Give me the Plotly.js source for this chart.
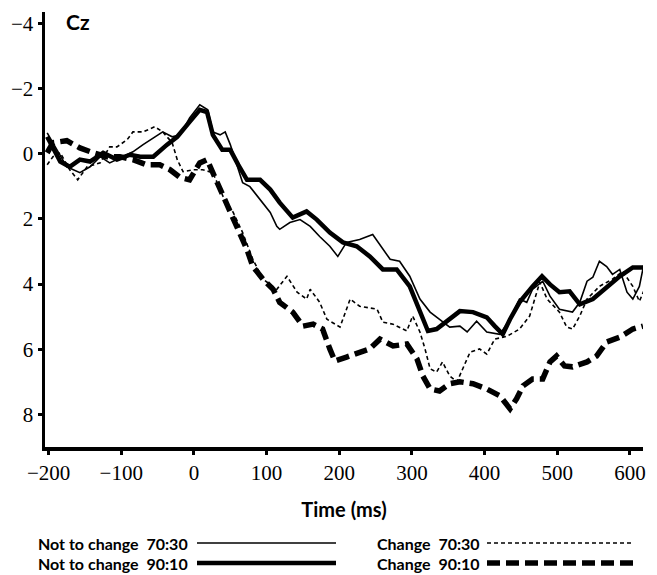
<!DOCTYPE html>
<html>
<head>
<meta charset="utf-8">
<script src="https://cdn.plot.ly/plotly-3.0.1.min.js"></script>
<style>html,body{margin:0;padding:0;background:#fff;}#chart{width:657px;height:575px;}</style>
</head>
<body>
<div id="chart"></div>
<script>
// ---- Data (Time in ms, amplitude in µV; negative plotted up) ----
const seriesNames = ["Not to change  70:30", "Not to change  90:10", "Change  70:30", "Change  90:10"];

const notChange7030_t = [-202,-188,-175,-157,-143,-129,-116,-98,-84,-70,-56,-43,-30,-19,-6,8,19,26,36,43,50,61,67,77,91,105,114,118,132,146,160,173,187,198,210,228,246,260,270,283,297,311,325,338,352,366,376,389,403,421,435,448,458,466,480,490,503,521,531,541,549,558,568,576,586,596,604,613,620];
const notChange7030_v = [-0.64,-0.12,0.40,0.58,0.40,0.09,0.28,0.09,-0.06,-0.28,-0.49,-0.67,-0.52,-0.58,-1.10,-1.50,-1.35,-0.67,-0.58,-0.67,-0.28,0.49,0.89,1.01,1.41,1.80,2.23,2.32,2.11,2.02,2.23,2.54,2.84,3.15,2.72,2.63,2.48,2.94,3.24,3.30,3.76,4.46,4.86,5.08,5.32,5.29,5.47,5.14,5.47,5.54,5.08,4.46,4.56,4.16,3.91,4.37,4.77,4.86,4.56,3.91,3.79,3.30,3.46,3.70,3.55,4.25,4.46,4.07,3.30];

const notChange9010_t = [-202,-194,-184,-171,-157,-143,-125,-106,-88,-74,-56,-37,-23,-6,8,18,26,39,50,61,73,91,105,118,136,155,169,187,205,224,242,260,279,297,311,322,334,348,366,384,403,414,425,435,448,466,479,490,503,517,531,549,568,586,604,618];
const notChange9010_v = [-0.52,-0.21,0.24,0.40,0.18,0.24,-0.03,0.18,0.03,0.09,0.09,-0.28,-0.52,-0.98,-1.35,-1.28,-0.58,-0.12,-0.12,0.34,0.80,0.80,1.10,1.50,1.96,1.77,2.02,2.42,2.72,2.84,3.15,3.55,3.55,4.07,4.86,5.44,5.38,5.14,4.83,4.86,5.02,5.29,5.54,5.08,4.56,4.07,3.76,4.01,4.25,4.22,4.62,4.46,4.10,3.76,3.49,3.49];

const change7030_t = [-202,-194,-184,-171,-160,-147,-129,-116,-106,-92,-84,-70,-54,-43,-30,-23,-15,-1,12,26,40,54,67,81,95,114,128,142,155,160,173,183,201,215,228,252,260,274,293,301,311,318,325,334,342,352,362,370,380,393,403,414,431,448,462,476,486,503,513,521,531,541,558,576,590,604,613,620];
const change7030_v = [0.34,0.09,-0.03,0.49,0.80,0.40,0.28,-0.21,-0.21,-0.43,-0.67,-0.67,-0.83,-0.67,-0.34,0.18,0.55,0.49,0.49,0.58,1.31,1.80,2.42,3.24,3.85,4.16,3.76,4.25,4.46,4.16,4.56,5.08,5.32,4.46,4.68,4.77,5.17,5.23,5.44,4.98,5.47,5.99,6.60,6.70,6.39,6.82,7.00,6.60,6.09,5.99,6.15,5.69,5.60,5.38,4.98,3.94,4.46,4.86,5.32,5.38,4.98,4.46,4.07,3.85,3.61,4.07,4.53,4.16];

const change9010_t = [-202,-194,-175,-157,-139,-120,-102,-84,-65,-47,-33,-19,-6,8,18,26,36,45,59,73,81,95,109,118,136,150,164,177,187,194,210,228,242,256,274,293,307,315,325,338,352,366,384,403,421,435,444,453,466,480,490,499,510,521,541,554,568,586,604,618];
const change9010_v = [-0.03,-0.34,-0.40,-0.18,-0.03,0.09,0.09,0.18,0.34,0.34,0.49,0.73,0.80,0.28,0.18,0.58,1.10,1.62,2.32,2.94,3.46,3.85,4.16,4.56,4.86,5.29,5.23,5.38,5.99,6.36,6.24,6.09,5.99,5.69,5.90,5.84,6.30,6.82,7.22,7.28,7.06,7.00,7.06,7.22,7.43,7.83,7.52,7.12,6.91,6.91,6.39,6.21,6.51,6.54,6.39,6.21,5.78,5.63,5.38,5.29];

const xTicks = [-200,-100,0,100,200,300,400,500,600];
const yTicks = [-4,-2,0,2,4,6,8];

// ---- Styles ----
const styles = [
  {width: 1.6, dash: "solid"},
  {width: 4.5, dash: "solid"},
  {width: 1.6, dash: "4px,3px"},
  {width: 5.5, dash: "13px,6px"}
];
const xs = [notChange7030_t, notChange9010_t, change7030_t, change9010_t];
const ys = [notChange7030_v, notChange9010_v, change7030_v, change9010_v];
const drawOrder = [1, 3, 0, 2];

const traces = drawOrder.map(i => ({
  type: "scatter", mode: "lines", name: seriesNames[i],
  x: xs[i], y: ys[i],
  line: {color: "#000", width: styles[i].width, dash: styles[i].dash, shape: "linear"},
  hoverinfo: "skip", showlegend: false
}));

// plot area in pixels
const L = 45, R = 14, T = 12, B = 128, W = 657, H = 575;
const pw = W - L - R, ph = H - T - B;
const px = v => (v - L) / pw;
const py = v => (H - B - v) / ph;

const legendRows = [
  {text: seriesNames[0], tx: 36, x0: 197, x1: 336, y: 543, s: 0},
  {text: seriesNames[1], tx: 36, x0: 197, x1: 336, y: 563, s: 1},
  {text: seriesNames[2], tx: 375, x0: 487, x1: 632, y: 543, s: 2},
  {text: seriesNames[3], tx: 375, x0: 487, x1: 637, y: 563, s: 3}
];
const legFont = {family: "Lato, 'Open Sans', sans-serif", size: 16, color: "#000"};

const annotations = legendRows.map(r => ({
  xref: "paper", yref: "paper", x: px(r.tx), y: py(r.y), xanchor: "left", yanchor: "middle",
  text: "<b>" + r.text.replace(/ /g, "\u00A0") + "</b>", showarrow: false, font: legFont
}));
annotations.push({
  xref: "paper", yref: "paper", x: px(64), y: py(21), xanchor: "left", yanchor: "middle",
  text: "<b>Cz</b>", showarrow: false,
  font: {family: "Lato, 'Open Sans', sans-serif", size: 21, color: "#000"}
});

const shapes = legendRows.map(r => ({
  type: "line", xref: "paper", yref: "paper",
  x0: px(r.x0), x1: px(r.x1), y0: py(r.y), y1: py(r.y),
  line: {color: "#000", width: styles[r.s].width, dash: styles[r.s].dash}
}));

const tickFont = {family: "'Liberation Serif', 'DejaVu Serif', serif", size: 21, color: "#000"};

const layout = {
  width: W, height: H,
  margin: {l: L, r: R, t: T, b: B, pad: 0},
  paper_bgcolor: "#fff", plot_bgcolor: "#fff",
  showlegend: false,
  xaxis: {
    range: [-205, 618], tickvals: xTicks, ticktext: xTicks.map(v => v < 0 ? "\u2212" + Math.abs(v) : String(v)),
    showline: true, linecolor: "#000", linewidth: 3.5, mirror: false,
    ticks: "outside", ticklen: 4, tickwidth: 3, tickcolor: "#000",
    showgrid: false, zeroline: false, tickfont: tickFont,
    title: {text: "<b>Time (ms)</b>", font: {family: "Lato, 'Open Sans', sans-serif", size: 20, color: "#000"}, standoff: 20}
  },
  yaxis: {
    range: [9, -4.35], tickvals: yTicks, ticktext: yTicks.map(v => v < 0 ? "\u2212" + Math.abs(v) : String(v)),
    showline: true, linecolor: "#000", linewidth: 3.5,
    ticks: "outside", ticklen: 4, tickwidth: 3, tickcolor: "#000",
    showgrid: false, zeroline: false, tickfont: tickFont
  },
  annotations: annotations,
  shapes: shapes
};

Plotly.newPlot("chart", traces, layout, {displayModeBar: false, staticPlot: true});
</script>
</body>
</html>
